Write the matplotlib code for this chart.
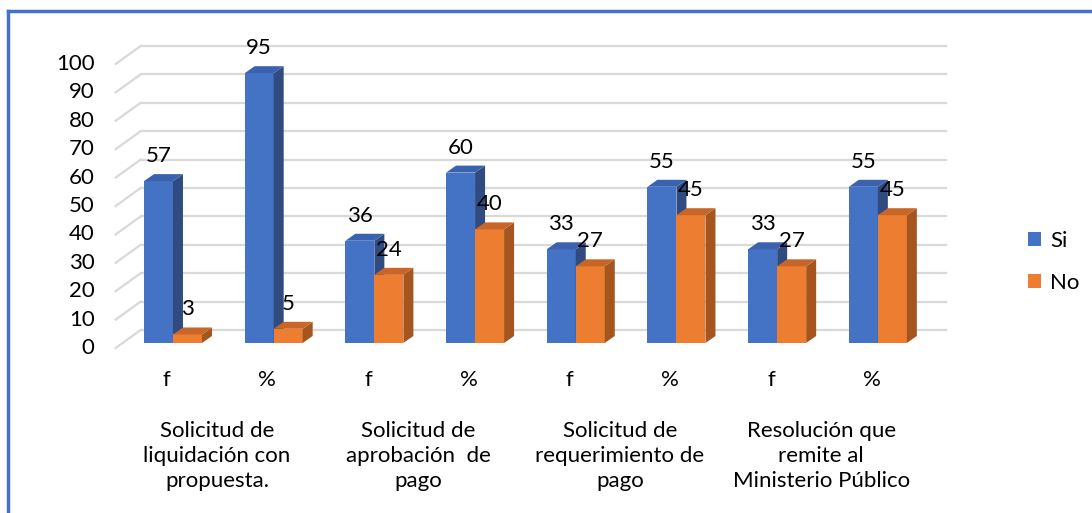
import numpy as np
import matplotlib
matplotlib.use("Agg")
import matplotlib.pyplot as plt
from matplotlib.patches import Polygon, Patch
from matplotlib.lines import Line2D

plt.rcParams['font.family'] = ['Lato', 'DejaVu Sans']

# datos del grafico
categorias = ['Solicitud de\nliquidación con\npropuesta.',
              'Solicitud de\naprobación  de\npago',
              'Solicitud de\nrequerimiento de\npago',
              'Resolución que\nremite al\nMinisterio Público']
subcategorias = ['f', '%', 'f', '%', 'f', '%', 'f', '%']
si = [57, 95, 36, 60, 33, 55, 33, 55]
no = [3, 5, 24, 40, 27, 45, 27, 45]
yticks = list(range(0, 101, 10))

azul, azul_top, azul_lado = '#4472C4', '#3B63AD', '#2F4B80'
naranja, naranja_top, naranja_lado = '#ED7D31', '#C8662A', '#A5561F'
gris = '#D9D9D9'
fs = 16

fig = plt.figure(figsize=(10.92, 5.13), dpi=100)
ax = fig.add_axes([0.1123, 0.3314, 0.7377, 0.5536])
ax.set_xlim(-0.5, 7.5)
ax.set_ylim(0, 100)
ax.axis('off')

# pixeles -> unidades de datos
p0 = ax.transData.transform((0, 0))
p1 = ax.transData.transform((1, 1))
ux = 1 / (p1[0] - p0[0])
uy = 1 / (p1[1] - p0[1])

def off(dx, dy):
    return dx * ux, dy * uy

prof_x, prof_y = off(10, 7)      # profundidad de barra
fondo_x, fondo_y = off(18, 13)   # pared del fondo
frente_x, frente_y = off(-7, -5) # borde frontal del piso

# lineas de cuadricula 3D
for v in yticks:
    ax.plot([-0.5 + fondo_x, 7.5 + fondo_x], [v + fondo_y, v + fondo_y],
            color=gris, lw=1.6, clip_on=False, zorder=1)
    ax.plot([-0.5 + frente_x, -0.5 + fondo_x], [v + frente_y, v + fondo_y],
            color=gris, lw=1.6, clip_on=False, zorder=1)
    ax.text(-0.5 + frente_x - 21 * ux, v + frente_y, str(v), ha='right', va='center',
            fontsize=fs, clip_on=False)

x = np.arange(len(si))
w = 0.288

def barra3d(x0, h, c_front, c_top, c_side, z):
    x1 = x0 + w
    ax.add_patch(Polygon([(x0, 0), (x1, 0), (x1, h), (x0, h)], closed=True,
                         facecolor=c_front, edgecolor='none', zorder=z, clip_on=False))
    ax.add_patch(Polygon([(x1, 0), (x1 + prof_x, prof_y), (x1 + prof_x, h + prof_y), (x1, h)],
                         closed=True, facecolor=c_side, edgecolor='none', zorder=z, clip_on=False))
    ax.add_patch(Polygon([(x0, h), (x1, h), (x1 + prof_x, h + prof_y), (x0 + prof_x, h + prof_y)],
                         closed=True, facecolor=c_top, edgecolor='none', zorder=z, clip_on=False))

for i in x:
    barra3d(i - w, si[i], azul, azul_top, azul_lado, 3)
    barra3d(i, no[i], naranja, naranja_top, naranja_lado, 4)
    ax.annotate(str(si[i]), (i - w / 2, si[i]), xytext=(0, 18), textcoords='offset points',
                ha='center', va='center', fontsize=fs, zorder=6)
    ax.annotate(str(no[i]), (i + w / 2, no[i]), xytext=(0, 18), textcoords='offset points',
                ha='center', va='center', fontsize=fs, zorder=6)
    ax.annotate(subcategorias[i], (i, 0), xytext=(-4.5, -26.5), textcoords='offset points',
                ha='center', va='center', fontsize=fs, annotation_clip=False)

for g, cat in enumerate(categorias):
    ax.annotate(cat, (2 * g + 0.5, 0), xytext=(-4.5, -81.5), textcoords='offset points',
                ha='center', va='center', fontsize=fs, linespacing=1.33,
                multialignment='center', annotation_clip=False)

handles = [Patch(facecolor=azul), Patch(facecolor=naranja)]
fig.legend(handles, ['Si', 'No'], loc='center left', bbox_to_anchor=(1008 / 1092, 1 - 262 / 513),
           frameon=False, fontsize=fs, handlelength=0.6, handleheight=0.6,
           handletextpad=0.4, labelspacing=1.0)

# borde azul del recuadro
fig.add_artist(Line2D([8 / 1092, 8 / 1092], [0, 1 - 11 / 513], transform=fig.transFigure,
                      color=azul, lw=2.5))
fig.add_artist(Line2D([8 / 1092, 1], [1 - 11 / 513, 1 - 11 / 513], transform=fig.transFigure,
                      color=azul, lw=2.5))

fig.savefig('out.png', dpi=100)
